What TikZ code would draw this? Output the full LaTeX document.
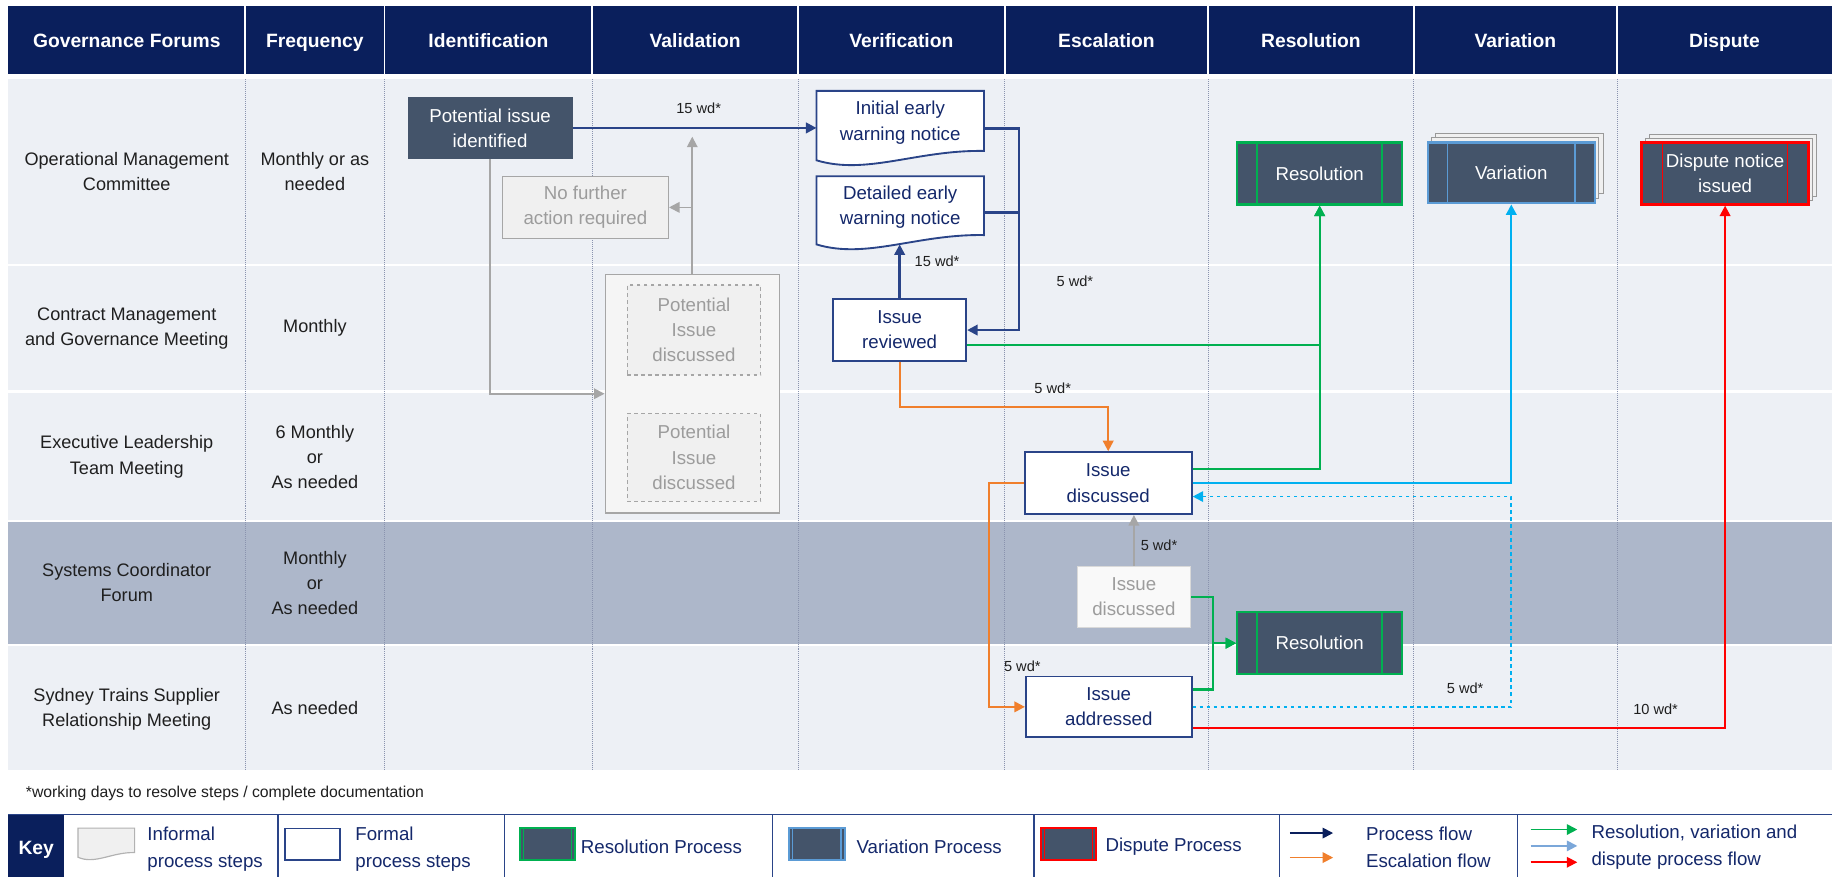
\documentclass[tikz,border=0pt]{standalone}
\usepackage{fontspec}
\setmainfont{Liberation Sans}
\usetikzlibrary{arrows.meta,calc}
\pgfdeclarelayer{back}
\pgfdeclarelayer{mid}
\pgfsetlayers{back,mid,main}
\definecolor{hdr}{HTML}{0A1F5C}
\definecolor{rowbg}{HTML}{EDF0F5}
\definecolor{rowdk}{HTML}{ADB7CA}
\definecolor{navy}{HTML}{2A4488}
\definecolor{navytxt}{HTML}{14286B}
\definecolor{dkfill}{HTML}{44546A}
\definecolor{grn}{HTML}{00B050}
\definecolor{cyn}{HTML}{00B0F0}
\definecolor{myred}{HTML}{FF0000}
\definecolor{org}{HTML}{F07F2C}
\definecolor{gryline}{HTML}{A6A6A6}
\definecolor{gryfill}{HTML}{F0F0F0}
\definecolor{grytxt}{HTML}{9C9C9C}
\definecolor{varb}{HTML}{5B9BD5}
\definecolor{steel}{HTML}{7BA7D9}
\definecolor{colline}{HTML}{8A93AE}
\tikzset{
  every node/.style={inner sep=0pt, align=center},
  hdrtext/.style={text=white, font=\fontsize{16.5}{20}\selectfont\bfseries, text height=12pt, text depth=3.5pt},
  lbl/.style={text=black!88, font=\fontsize{15.5}{21.5}\selectfont},
  wd/.style={text=black!88, font=\fontsize{12.5}{14}\selectfont},
  boxfont/.style={font=\fontsize{16}{21.5}\selectfont},
  sz/.style 2 args={minimum width=#1, minimum height=#2},
  formal/.style={boxfont, draw=navy, line width=1.6pt, fill=white, text=navytxt},
  docnode/.style={boxfont, text=navytxt},
  dark/.style={boxfont, fill=dkfill, text=white},
  informal/.style={boxfont, draw=gryline, line width=1.2pt, fill=gryfill, text=grytxt},
  ppbox/.style={boxfont, fill=dkfill, text=white, line width=2pt},
  flow/.style={line width=2pt, -{Triangle[length=9pt,width=9pt]}},
  keytext/.style={text=navytxt, font=\fontsize{16}{23}\selectfont, align=left},
  back/.style={fill=white!88!gray, draw=gray!80, line width=0.8pt}
}
\newcommand\docoutline[4]{% name, draw, fill, scale
  \path[draw=#2, fill=#3, line width=1.6pt]
    (#1.north west) -- (#1.north east) -- ($(#1.south east)+(0,-3*#4)$)
    .. controls ($(#1.south east)!0.4!(#1.south west)+(0,-4*#4)$)
    and ($(#1.south east)!0.7!(#1.south west)+(0,18*#4)$)
    .. ($(#1.south west)+(0,5*#4)$) -- cycle;}
\newcommand\pplines[3]{% name, colour, offset
  \draw[#2, line width=1.2pt] ([xshift=#3]#1.north west) -- ([xshift=#3]#1.south west)
    ([xshift=-#3]#1.north east) -- ([xshift=-#3]#1.south east);}
\begin{document}
\begin{tikzpicture}[x=1pt,y=-1pt]
\useasboundingbox (0,0) rectangle (1568,751);
\begin{pgfonlayer}{back}
  \fill[white] (0,0) rectangle (1568,751);
  \fill[hdr] (7,5) rectangle (1568,63);
  \foreach \x in {210,329,507,683,860,1034,1210,1384}
    \draw[white, line width=1.5pt] (\x,5) -- (\x,63);
  \fill[rowbg] (7,68) rectangle (1568,226);
  \fill[rowbg] (7,228) rectangle (1568,334);
  \fill[rowbg] (7,336) rectangle (1568,445);
  \fill[rowdk] (7,447) rectangle (1568,551);
  \fill[rowbg] (7,553) rectangle (1568,659);
  \foreach \x in {210,329,507,683,860,1034,1210,1384}
    \draw[colline, line width=0.7pt, densely dotted] (\x,68) -- (\x,659);
\end{pgfonlayer}

% header
\node[hdrtext] (h1) at (108.5,36.5) {Governance Forums};
\node[hdrtext] (h2) at (269.5,36.5) {Frequency};
\node[hdrtext] (h3) at (418,36.5) {Identification};
\node[hdrtext] (h4) at (595,36.5) {Validation};
\node[hdrtext] (h5) at (771.5,36.5) {Verification};
\node[hdrtext] (h6) at (947,36.5) {Escalation};
\node[hdrtext] (h7) at (1122,36.5) {Resolution};
\node[hdrtext] (h8) at (1297,36.5) {Variation};
\node[hdrtext] (h9) at (1476,36.5) {Dispute};

% row labels
\node[lbl] (r1) at (108.5,147) {Operational Management\\Committee};
\node[lbl] (f1) at (269.5,147) {Monthly or as\\needed};
\node[lbl] (r2) at (108.5,281) {Contract Management\\and Governance Meeting};
\node[lbl] (f2) at (269.5,281) {Monthly};
\node[lbl] (r3) at (108.5,391) {Executive Leadership\\Team Meeting};
\node[lbl] (f3) at (269.5,391) {6 Monthly\\or\\As needed};
\node[lbl] (r4) at (108.5,498.5) {Systems Coordinator\\Forum};
\node[lbl] (f4) at (269.5,499) {Monthly\\or\\As needed};
\node[lbl] (r5) at (108.5,607) {Sydney Trains Supplier\\Relationship Meeting};
\node[lbl] (f5) at (269.5,606) {As needed};

% identification / validation
\node[dark, sz={141pt}{53pt}] (pii) at (419.5,109.5) {Potential issue\\identified};
\node[informal, sz={142pt}{53pt}] (nfa) at (501,177.5) {No further\\action required};
\node[informal, fill=white!92!gray, sz={149pt}{204pt}] (valbox) at (592.5,337) {};
\node[informal, dashed, sz={114pt}{77pt}] (pid1) at (594,282.5) {Potential\\Issue\\discussed};
\node[informal, dashed, sz={114pt}{75pt}] (pid2) at (594,391.5) {Potential\\Issue\\discussed};

% verification
\node[docnode, sz={143pt}{54pt}] (ien) at (770.5,105) {Initial early\\warning notice};
\node[docnode, sz={143pt}{53pt}] (den) at (770.5,177.5) {Detailed early\\warning notice};
\begin{pgfonlayer}{mid}
  \docoutline{ien}{navy}{white}{1}
  \docoutline{den}{navy}{white}{1}
\end{pgfonlayer}
\node[formal, sz={114pt}{53pt}] (irev) at (770,282.5) {Issue\\reviewed};

% escalation
\node[formal, sz={143pt}{53pt}] (idisc) at (948.5,413.5) {Issue\\discussed};
\node[informal, draw=gray!30, fill=white!95!gray, sz={97pt}{52pt}] (idisc2) at (970.5,511) {Issue\\discussed};
\node[formal, sz={142pt}{52pt}] (iadd) at (949,605) {Issue\\addressed};

% resolution / variation / dispute
\node[ppbox, draw=grn, sz={141pt}{53pt}] (res1) at (1129.5,148.5) {Resolution};
\pplines{res1}{grn}{18pt}
\node[ppbox, draw=grn, sz={141pt}{53pt}] (res2) at (1129.5,550.5) {Resolution};
\pplines{res2}{grn}{18pt}
\draw[back] (1229,114) rectangle (1372,166);
\draw[back] (1225.5,118) rectangle (1368.5,170);
\node[ppbox, draw=varb, sz={143pt}{52pt}] (var) at (1293.5,148) {Variation};
\pplines{var}{varb}{18pt}
\draw[back] (1412,115) rectangle (1555,168);
\draw[back] (1408.5,118.5) rectangle (1551.5,171.5);
\node[ppbox, draw=myred, sz={143pt}{53pt}] (disp) at (1476.5,148.5) {Dispute notice\\issued};
\pplines{disp}{myred}{19pt}

% connectors: process flow (navy)
\draw[flow, navy] (pii.east) -- (pii.east -| ien.west);
\node[wd] (l1) at (598,93) {15 wd*};
\draw[flow, navy] ([yshift=-5pt]ien.east) -- ++(30,0) |- (irev.east);
\draw[navy, line width=2pt] ([yshift=-4.5pt]den.east) -- ++(30,0);
\draw[flow, navy] (irev.north) -- ($(den.south)+(-0.5,5)$);
\node[wd] (l2) at (802,224) {15 wd*};
\node[wd] (l3) at (920,241) {5 wd*};

% informal (grey)
\coordinate (vtop) at (592.5,117);
\draw[flow, gryline, line width=1.5pt] (valbox.north) -- (vtop);
\draw[flow, gryline, line width=1.5pt] (nfa.east -| valbox.north) -- (nfa.east);
\draw[flow, gryline, line width=1.5pt] (pii.south) |- (valbox.west);
\draw[flow, gryline, line width=1.5pt] (idisc2.north) -- (idisc2.north |- idisc.south);
\node[wd] (l5) at (992,467) {5 wd*};

% escalation (orange)
\draw[flow, org, line width=1.8pt] (irev.south) |- (948.5,348) -- (idisc.north);
\node[wd] (l4) at (901,332) {5 wd*};
\draw[flow, org, line width=1.8pt] (idisc.west) -- ++(-30,0) |- (iadd.west);
\node[wd] (l6) at (875,570) {5 wd*};

% resolution / variation / dispute flows
\draw[flow, grn] ([yshift=-12.5pt]irev.east) -| (res1.south);
\draw[flow, grn] ([yshift=12pt]idisc.east) -| (res1.south);
\draw[flow, cyn] (idisc.east) -| (var.south);
\draw[flow, cyn, dashed, line width=1.6pt] (iadd.east) -| (1293.5,425) -- ([yshift=-11.5pt]idisc.east);
\node[wd] (l7) at (1254,589) {5 wd*};
\draw[flow, grn] (idisc2.east) -- (1038,511) |- (res2.west);
\draw[flow, grn] ([yshift=15pt]iadd.east) -- (1038,590) |- (res2.west);
\draw[flow, myred] ([yshift=-18pt]iadd.east) -| (disp.south);
\node[wd] (l8) at (1417,607) {10 wd*};

% footnote
\node[anchor=west, text=black!88, font=\fontsize{13.5}{16}\selectfont] (fn) at (22,679) {*working days to resolve steps / complete documentation};

% key
\fill[hdr] (7,697) rectangle (55,751);
\node[hdrtext] (keyl) at (31,727) {Key};
\draw[navy, line width=1.2pt] (7,697) -- (1568,697);
\foreach \x in {238,432,661,885,1095,1299}
  \draw[navy, line width=1pt] (\x,697) -- (\x,751);
\node[sz={48pt}{22pt}] (k1) at (91,720) {};
\begin{pgfonlayer}{mid}
  \path[draw=gray!60, fill=gryfill, line width=1pt]
    (k1.north west) -- (k1.north east) -- ($(k1.south east)+(0,-1.5)$)
    .. controls ($(k1.south east)!0.4!(k1.south west)+(0,-2)$)
    and ($(k1.south east)!0.7!(k1.south west)+(0,9)$)
    .. ($(k1.south west)+(0,2.5)$) -- cycle;
\end{pgfonlayer}
\node[keytext, anchor=west] (k1t) at (126,726.5) {Informal\\process steps};
\node[draw=navy, line width=1.4pt, fill=white, sz={47pt}{27pt}] (k2) at (267.5,722.5) {};
\node[keytext, anchor=west] (k2t) at (304,726.5) {Formal\\process steps};
\node[fill=dkfill, draw=grn, line width=1.8pt, sz={47pt}{27pt}] (k3) at (468.5,722.5) {};
\pplines{k3}{grn}{4pt}
\node[keytext, anchor=west] (k3t) at (497,725) {Resolution Process};
\node[fill=dkfill, draw=varb, line width=1.8pt, sz={48pt}{27pt}] (k4) at (699,722.5) {};
\pplines{k4}{varb}{4pt}
\node[keytext, anchor=west] (k4t) at (733,725) {Variation Process};
\node[fill=dkfill, draw=myred, line width=1.8pt, sz={47pt}{27pt}] (k5) at (914.5,722.5) {};
\pplines{k5}{myred}{4pt}
\node[keytext, anchor=west] (k5t) at (946,725) {Dispute Process};
\coordinate (a1s) at (1104,713); \coordinate (a1e) at (1141,713);
\coordinate (a2s) at (1104,734); \coordinate (a2e) at (1141,734);
\draw[flow, hdr, line width=1.5pt] (a1s) -- (a1e);
\draw[flow, org, line width=1.5pt] (a2s) -- (a2e);
\node[keytext, anchor=west] (k6t) at (1169,725) {Process flow\\Escalation flow};
\coordinate (a3s) at (1310,710); \coordinate (a3e) at (1350,710);
\coordinate (a4s) at (1310,724); \coordinate (a4e) at (1350,724);
\coordinate (a5s) at (1310,738); \coordinate (a5e) at (1350,738);
\draw[flow, grn, line width=1.5pt] (a3s) -- (a3e);
\draw[flow, steel, line width=1.5pt] (a4s) -- (a4e);
\draw[flow, myred, line width=1.5pt] (a5s) -- (a5e);
\node[keytext, anchor=west] (k7t) at (1362,725) {Resolution, variation and\\dispute process flow};
\end{tikzpicture}
\end{document}
